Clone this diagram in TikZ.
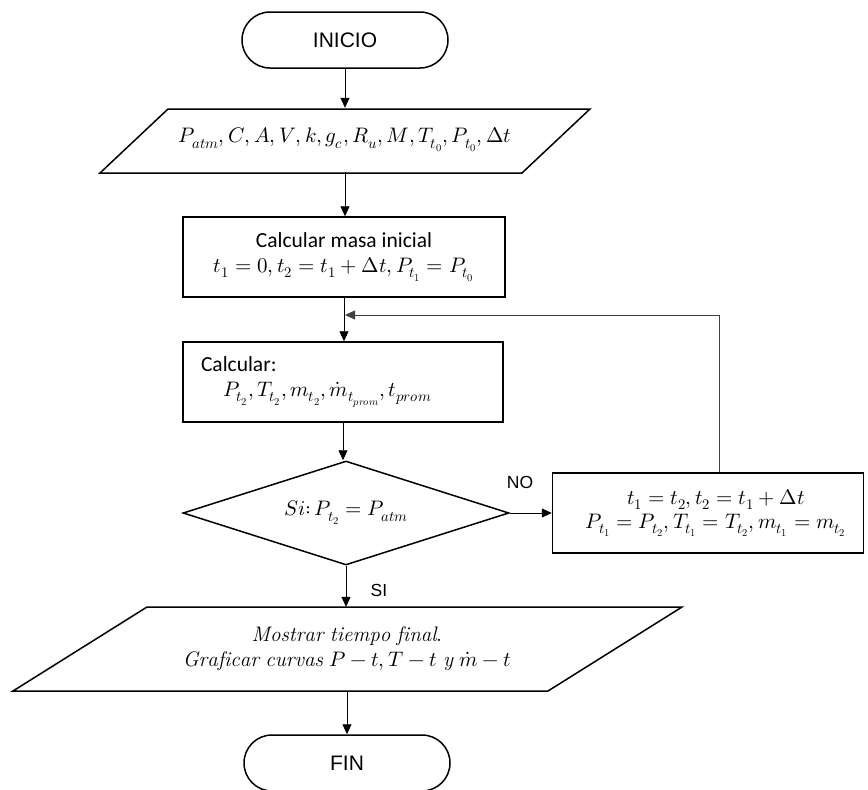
\documentclass[tikz,border=0pt]{standalone}
\usepackage{fontspec}
\usepackage{unicode-math}
\setmathfont{Latin Modern Math}
\newfontfamily\arialf{Liberation Sans}
\newfontfamily\calf{Carlito}
\usetikzlibrary{arrows.meta,shapes.geometric}
\begin{document}
\begin{tikzpicture}[x=1pt,y=-1pt,
  shapeline/.style={line width=1.5pt,line join=miter},
  term/.style={draw,shapeline,rounded corners=28pt,minimum width=206pt,minimum height=56pt,inner sep=0pt,font=\arialf\fontsize{21}{25}\selectfont},
  proc/.style={draw,shapeline,inner sep=0pt,font=\fontsize{21}{27}\selectfont},
  iotext/.style={inner sep=0pt,font=\fontsize{21}{27}\selectfont,align=center},
  conn/.style={line width=0.8pt,-{Triangle[length=10pt,width=9pt]}},
  backconn/.style={line width=0.8pt,draw=black!75,-{Triangle[length=10pt,width=9pt]}},
  lbl/.style={inner sep=0pt,font=\arialf\fontsize{17.5}{20}\selectfont},
]
\useasboundingbox (0,0) rectangle (868,790);
\clip (0,0) rectangle (868,790);

% terminals
\node[term] (ini) at (345,40) {INICIO};
\node[term] (fin) at (347,763) {FIN};

% input parallelogram
\draw[shapeline] (100,173) -- (168,109) -- (590,109) -- (522,173) -- cycle;
\node[iotext,minimum width=422pt,minimum height=64pt] (p1) at (345,140)
  {$P_{atm}, C, A, V, k, g_c, R_u, M, T_{t_0}, P_{t_0}, \Delta t$};

% process boxes
\node[proc,minimum width=322pt,minimum height=80pt,align=center] (b1) at (344,257)
  {{\calf\fontsize{21.5}{27}\selectfont Calcular masa inicial}\\[-2pt] $t_1=0, t_2=t_1+\Delta t, P_{t_1}=P_{t_0}$};

\node[proc,minimum width=320pt,minimum height=80pt,text width=284pt,align=left] (b2) at (343,382)
  {{\calf\fontsize{21.5}{27}\selectfont Calcular:}\\[-2pt]\hspace*{22pt}$P_{t_2}, T_{t_2}, m_{t_2}, \dot{m}_{t_{prom}}, t_{prom}$};

% decision
\node[draw,shapeline,diamond,aspect=3.1,minimum width=326pt,minimum height=104pt,inner sep=0pt,font=\fontsize{21}{25}\selectfont] (dia) at (346,513)
  {$Si{:}\,P_{t_2}=P_{atm}$};

% update box
\node[proc,minimum width=311pt,minimum height=80pt,align=center] (nb) at (708,513)
  {\hspace*{16pt}$t_1=t_2, t_2=t_1+\Delta t$\\[-3pt]\hspace*{16pt}$P_{t_1}=P_{t_2}, T_{t_1}=T_{t_2}, m_{t_1}=m_{t_2}$};

% output parallelogram
\draw[shapeline] (13,691) -- (147,607) -- (682,607) -- (548,691) -- cycle;
\node[iotext,minimum width=535pt,minimum height=84pt] (p2) at (347,649)
  {$\mathit{Mostrar\ tiempo\ final.}$\\[-2pt] $\mathit{Graficar\ curvas}\ P-t, T-t\ \mathit{y}\ \dot{m}-t$};

% labels
\node[lbl] (no) at (520,482) {NO};
\node[lbl] (si) at (379,590) {SI};

% connectors
\coordinate (jn) at (345,315);
\draw[conn] (ini.south) -- (ini.south |- p1.north);
\draw[conn] (p1.south) -- (p1.south |- b1.north);
\draw[conn] (b1.south) -- (b1.south |- b2.north);
\draw[conn] (b2.south) -- (b2.south |- dia.north);
\draw[conn] (dia.east) -- (nb.west);
\draw[backconn] ([xshift=11pt]nb.north) |- (jn);
\draw[conn] (dia.south) -- (dia.south |- p2.north);
\draw[conn] (p2.south) -- (fin.north);
\end{tikzpicture}
\end{document}
